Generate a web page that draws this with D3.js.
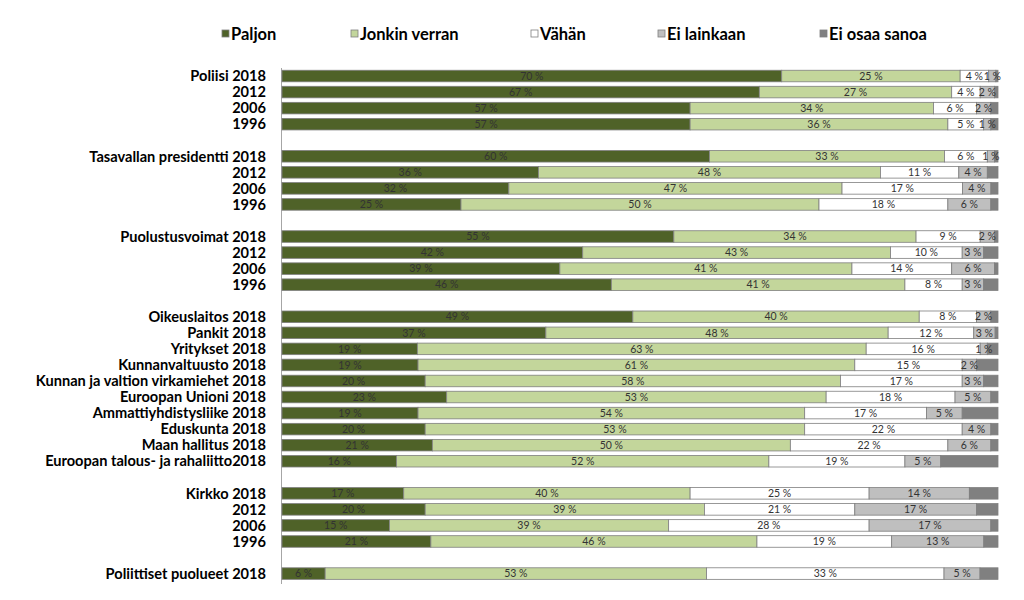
<!DOCTYPE html>
<html>
<head>
<meta charset="utf-8">
<script src="https://cdn.jsdelivr.net/npm/d3@7"></script>
<style>
  html, body { margin: 0; padding: 0; background: #ffffff; }
  svg { display: block; }
</style>
</head>
<body>
<svg id="chart" width="1024" height="600"></svg>
<script>
// ---- Data (percent) ----
const categories = [
  "Poliisi 2018", "2012", "2006", "1996", "",
  "Tasavallan presidentti 2018", "2012", "2006", "1996", "",
  "Puolustusvoimat 2018", "2012", "2006", "1996", "",
  "Oikeuslaitos 2018", "Pankit 2018", "Yritykset 2018", "Kunnanvaltuusto 2018",
  "Kunnan ja valtion virkamiehet 2018", "Euroopan Unioni 2018", "Ammattiyhdistysliike 2018",
  "Eduskunta 2018", "Maan hallitus 2018", "Euroopan talous- ja rahaliitto2018", "",
  "Kirkko 2018", "2012", "2006", "1996", "",
  "Poliittiset puolueet 2018"
];
const paljon     = [70, 67, 57, 57, null, 60, 36, 32, 25, null, 55, 42, 39, 46, null, 49, 37, 19, 19, 20, 23, 19, 20, 21, 16, null, 17, 20, 15, 21, null, 6];
const jonkin     = [25, 27, 34, 36, null, 33, 48, 47, 50, null, 34, 43, 41, 41, null, 40, 48, 63, 61, 58, 53, 54, 53, 50, 52, null, 40, 39, 39, 46, null, 53];
const vahan      = [4, 4, 6, 5, null, 6, 11, 17, 18, null, 9, 10, 14, 8, null, 8, 12, 16, 15, 17, 18, 17, 22, 22, 19, null, 25, 21, 28, 19, null, 33];
const eiLainkaan = [1, 2, 2, 1, null, 1, 4, 4, 6, null, 2, 3, 6, 3, null, 2, 3, 1, 2, 3, 5, 5, 4, 6, 5, null, 14, 17, 17, 13, null, 5];
const eiOsaa     = [0.3, 0.5, 1, 1, null, 0.5, 1.5, 1, 1, null, 0.5, 2, 0.5, 2, null, 1, 0.4, 1.5, 3, 2, 1, 5, 1, 1, 8, null, 4, 3, 1, 2, null, 2.5];

const seriesNames = ["Paljon", "Jonkin verran", "Vähän", "Ei lainkaan", "Ei osaa sanoa"];
const seriesColors = ["#4f6228", "#c3d69b", "#ffffff", "#bfbfbf", "#808080"];
const seriesLabelled = [true, true, true, true, false];

// ---- Build table ----
const keys = ["k0", "k1", "k2", "k3", "k4"];
const cols = [paljon, jonkin, vahan, eiLainkaan, eiOsaa];
const rows = categories.map((c, i) => {
  const r = { idx: i, label: c, gap: paljon[i] === null };
  keys.forEach((k, j) => r[k] = cols[j][i] === null ? 0 : cols[j][i]);
  return r;
});
const dataRows = rows.filter(r => !r.gap);

const svg = d3.select("#chart");
const x = d3.scaleLinear().domain([0, 1]).range([282, 998]);
const y = d3.scaleBand().domain(rows.map(r => r.idx)).range([68, 581.6]).paddingInner(0.28).paddingOuter(0.14);

const stack = d3.stack().keys(keys).offset(d3.stackOffsetExpand);
const stacked = stack(dataRows);

// axis line
svg.append("line")
  .attr("x1", 281.5).attr("x2", 281.5)
  .attr("y1", 68).attr("y2", 584)
  .attr("stroke", "#a6a6a6").attr("stroke-width", 1);

// bars
const layer = svg.selectAll("g.layer").data(stacked).join("g")
  .attr("class", "layer")
  .attr("fill", (d, i) => seriesColors[i]);

layer.selectAll("rect").data(d => d).join("rect")
  .attr("x", d => x(d[0]))
  .attr("y", d => y(d.data.idx))
  .attr("width", d => Math.max(0, x(d[1]) - x(d[0])))
  .attr("height", y.bandwidth())
  .attr("stroke", "#7f7f7f")
  .attr("stroke-width", 0.8);

// data labels
stacked.forEach((s, i) => {
  if (!seriesLabelled[i]) return;
  svg.append("g").selectAll("text").data(s).join("text")
    .attr("x", d => (x(d[0]) + x(d[1])) / 2)
    .attr("y", d => y(d.data.idx) + y.bandwidth() / 2)
    .attr("dy", "0.35em")
    .attr("text-anchor", "middle")
    .attr("font-family", "Lato, 'Open Sans', sans-serif")
    .attr("font-size", 10.5)
    .attr("fill", "#333333")
    .text(d => d.data[keys[i]] + " %");
});

// category labels
svg.append("g").selectAll("text").data(dataRows).join("text")
  .attr("x", 266)
  .attr("y", d => y(d.idx) + y.bandwidth() / 2)
  .attr("dy", "0.36em")
  .attr("text-anchor", "end")
  .attr("font-family", "Lato, 'Open Sans', sans-serif")
  .attr("font-weight", "bold")
  .attr("font-size", 14.6)
  .attr("fill", "#000")
  .text(d => d.label);

// legend
const legendX = [222, 351, 531, 658, 820];
const lg = svg.append("g").selectAll("g").data(seriesNames).join("g")
  .attr("transform", (d, i) => `translate(${legendX[i]},34)`);
lg.append("rect")
  .attr("x", 0).attr("y", -4).attr("width", 7).attr("height", 7)
  .attr("fill", (d, i) => seriesColors[i])
  .attr("stroke", "#7f7f7f").attr("stroke-width", 0.8);
lg.append("text")
  .attr("x", 9).attr("y", 0).attr("dy", "0.36em")
  .attr("font-family", "Lato, 'Open Sans', sans-serif")
  .attr("font-weight", "bold")
  .attr("font-size", 16.5)
  .attr("fill", "#000")
  .text(d => d);
</script>
</body>
</html>
